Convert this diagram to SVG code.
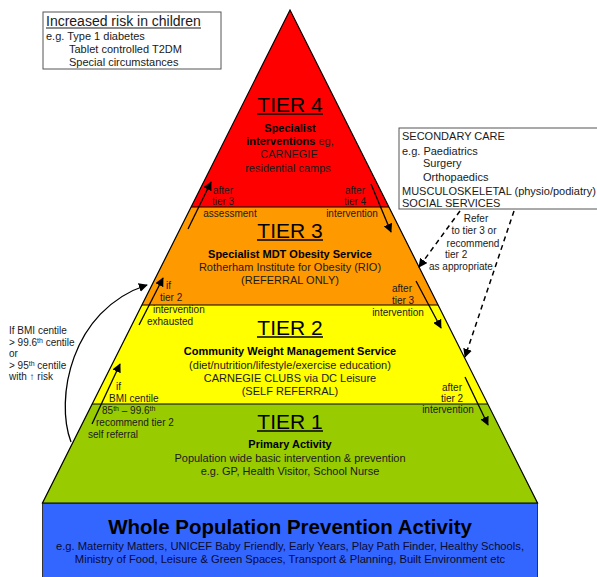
<svg xmlns="http://www.w3.org/2000/svg" width="597" height="577" viewBox="0 0 597 577">
<defs>
<marker id="ah" viewBox="0 0 10 10" refX="9" refY="5" markerWidth="9" markerHeight="9" markerUnits="userSpaceOnUse" orient="auto">
<path d="M0,0 L10,5 L0,10 z" fill="#000"/>
</marker>
<style>
text{font-family:"Liberation Sans",Arial,sans-serif;fill:#1a1a1a}
.tier{font-size:21px;text-anchor:middle;fill:#000}
.b{font-size:11px;font-weight:bold;text-anchor:middle;fill:#000}
.n{font-size:11px;text-anchor:middle}
.s{font-size:10px}
.sm{font-size:10px;text-anchor:middle}
.ul{stroke:#000;stroke-width:1.5}
.arr{stroke:#000;stroke-width:1.3;fill:none;marker-end:url(#ah)}
.dash{stroke:#000;stroke-width:1.5;fill:none;stroke-dasharray:5,4;marker-end:url(#ah)}
.sep{stroke:#000;stroke-width:1}
.box{fill:#fff;stroke:#555;stroke-width:1}
</style>
</defs>
<rect width="597" height="577" fill="#fff"/>

<g id="base">
<rect x="42.5" y="503" width="495" height="80" fill="#3366ff" stroke="#333" stroke-width="1"/>
<text x="290" y="534" style="font-size:20.5px;font-weight:bold;text-anchor:middle;fill:#000">Whole Population Prevention Activity</text>
<text x="290" y="550" class="n" style="font-size:11.2px;fill:#0a0a30">e.g. Maternity Matters, UNICEF Baby Friendly, Early Years, Play Path Finder, Healthy Schools,</text>
<text x="290" y="563" class="n" style="font-size:11.2px;fill:#0a0a30">Ministry of Food, Leisure &amp; Green Spaces, Transport &amp; Planning, Built Environment etc</text>
</g>

<g id="tier1">
<polygon points="92.2,404 487.8,404 537.5,503 42.5,503" fill="#99cc00"/>
<text x="290" y="429" class="tier">TIER 1</text>
<line x1="257" y1="431" x2="323" y2="431" class="ul"/>
<text x="290" y="448" class="b">Primary Activity</text>
<text x="290" y="462" class="n">Population wide basic intervention &amp; prevention</text>
<text x="290" y="475" class="n">e.g. GP, Health Visitor, School Nurse</text>
</g>

<g id="tier2">
<polygon points="141.9,305 438.1,305 487.8,404 92.2,404" fill="#ffff00"/>
<text x="290" y="335" class="tier">TIER 2</text>
<line x1="257" y1="337" x2="323" y2="337" class="ul"/>
<text x="290" y="355" class="b">Community Weight Management Service</text>
<text x="290" y="369" class="n">(diet/nutrition/lifestyle/exercise education)</text>
<text x="290" y="382" class="n">CARNEGIE CLUBS via DC Leisure</text>
<text x="290" y="395" class="n">(SELF REFERRAL)</text>
</g>

<g id="tier3">
<polygon points="191.1,207 388.9,207 438.1,305 141.9,305" fill="#ff9900"/>
<text x="290" y="238" class="tier">TIER 3</text>
<line x1="257" y1="240" x2="323" y2="240" class="ul"/>
<text x="290" y="258" class="b">Specialist MDT Obesity Service</text>
<text x="290" y="271" class="n">Rotherham Institute for Obesity (RIO)</text>
<text x="290" y="284" class="n">(REFERRAL ONLY)</text>
</g>

<g id="tier4">
<polygon points="290,10 388.9,207 191.1,207" fill="#ff0000"/>
<text x="290" y="112" class="tier">TIER 4</text>
<line x1="257" y1="114" x2="323" y2="114" class="ul"/>
<text x="290" y="132" class="b">Specialist</text>
<text x="290" y="145" class="n"><tspan font-weight="bold" fill="#000">interventions</tspan> eg,</text>
<text x="289" y="158" class="n">CARNEGIE</text>
<text x="288" y="172" class="n">residential camps</text>
</g>

<g id="outline">
<polygon points="290,10 537.5,503 42.5,503" fill="none" stroke="#000" stroke-width="1.2"/>
<line x1="191.1" y1="207" x2="388.9" y2="207" class="sep"/>
<line x1="141.9" y1="305" x2="438.1" y2="305" class="sep"/>
<line x1="92.2" y1="404" x2="487.8" y2="404" class="sep"/>
</g>

<g id="risk-box">
<rect x="43" y="12" width="178" height="57" class="box"/>
<text x="46" y="26" style="font-size:14px">Increased risk in children</text>
<line x1="46" y1="28" x2="201" y2="28" stroke="#1a1a1a" stroke-width="1"/>
<text x="46" y="40" style="font-size:11px">e.g. Type 1 diabetes</text>
<text x="69" y="53" style="font-size:11px">Tablet controlled T2DM</text>
<text x="69" y="66" style="font-size:11px">Special circumstances</text>
</g>

<g id="secondary-box">
<rect x="399" y="128" width="205" height="81" class="box"/>
<text x="402" y="140" style="font-size:11px">SECONDARY CARE</text>
<text x="402" y="155" style="font-size:11px">e.g. Paediatrics</text>
<text x="423" y="167" style="font-size:11px">Surgery</text>
<text x="423" y="181" style="font-size:11px">Orthopaedics</text>
<text x="402" y="195" style="font-size:11px">MUSCULOSKELETAL (physio/podiatry)</text>
<text x="402" y="207" style="font-size:11px">SOCIAL SERVICES</text>
</g>

<g id="connectors">
<line x1="188" y1="229" x2="211" y2="182" class="arr"/>
<line x1="139" y1="325" x2="163" y2="278" class="arr"/>
<line x1="92" y1="424" x2="120" y2="364" class="arr"/>
<line x1="371" y1="184" x2="391" y2="232" class="arr"/>
<line x1="416" y1="281" x2="441" y2="328" class="arr"/>
<line x1="465" y1="377" x2="488" y2="425" class="arr"/>
<path d="M71,442 C55,400 70,310 147,285" class="arr"/>
<line x1="460" y1="211" x2="419" y2="267" class="dash"/>
<line x1="514" y1="211" x2="465" y2="357" class="dash"/>
</g>

<g id="labels">
<text x="223" y="194" class="sm">after</text>
<text x="223" y="205" class="sm">tier 3</text>
<text x="230" y="217" class="sm">assessment</text>
<text x="355" y="194" class="sm">after</text>
<text x="355" y="205" class="sm">tier 4</text>
<text x="352" y="217" class="sm">intervention</text>

<text x="166" y="289" class="s">if</text>
<text x="160" y="301" class="s">tier 2</text>
<text x="153" y="313" class="s">intervention</text>
<text x="147" y="325" class="s">exhausted</text>

<text x="402" y="292" class="sm">after</text>
<text x="403" y="304" class="sm">tier 3</text>
<text x="398" y="316" class="sm">intervention</text>

<text x="116" y="390" class="s">if</text>
<text x="109" y="402" class="s">BMI centile</text>
<text x="102" y="414" class="s">85<tspan font-size="7" baseline-shift="super">th</tspan> – 99.6<tspan font-size="7" baseline-shift="super">th</tspan></text>
<text x="96" y="426" class="s">recommend tier 2</text>
<text x="88" y="438" class="s">self referral</text>

<text x="452" y="391" class="sm">after</text>
<text x="452" y="402" class="sm">tier 2</text>
<text x="448" y="413" class="sm">intervention</text>

<text x="9" y="334" class="s">If BMI centile</text>
<text x="9" y="346" class="s">&gt; 99.6<tspan font-size="7" baseline-shift="super">th</tspan> centile</text>
<text x="9" y="357" class="s">or</text>
<text x="9" y="369" class="s">&gt; 95<tspan font-size="7" baseline-shift="super">th</tspan> centile</text>
<text x="9" y="380" class="s">with ↑ risk</text>

<text x="476" y="222" class="sm">Refer</text>
<text x="474" y="234" class="sm">to tier 3 or</text>
<text x="473" y="247" class="sm">recommend</text>
<text x="445" y="258" class="s">tier 2</text>
<text x="429" y="270" class="s">as appropriate</text>
</g>
</svg>
